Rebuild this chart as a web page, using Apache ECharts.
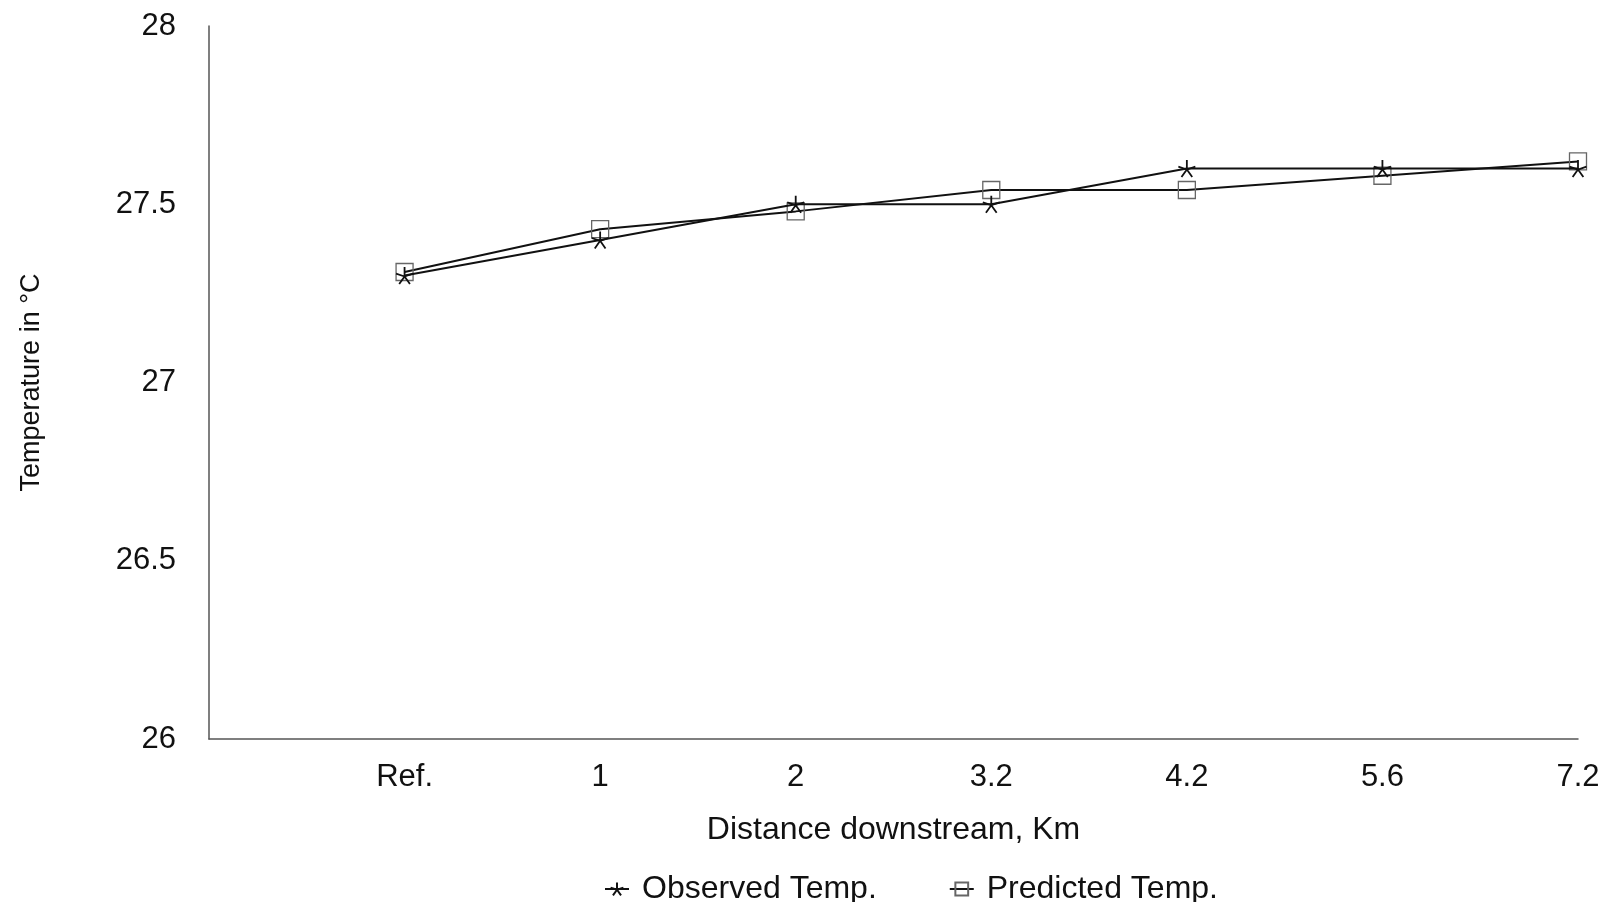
<!DOCTYPE html>
<html>
<head>
<meta charset="utf-8">
<script src="https://cdn.jsdelivr.net/npm/echarts@6/dist/echarts.min.js"></script>
<style>
html,body{margin:0;padding:0;background:#fff;}
#chart{width:1607px;height:902px;}
</style>
</head>
<body>
<div id="chart"></div>
<script>
// Data
var categories = ['Ref.', '1', '2', '3.2', '4.2', '5.6', '7.2'];
var observedTemp = [27.30, 27.40, 27.50, 27.50, 27.60, 27.60, 27.60];
var predictedTemp = [27.31, 27.43, 27.48, 27.54, 27.54, 27.58, 27.62];
var yTicks = { min: 26, max: 28, interval: 0.5 };

var FONT = '"Liberation Sans", Arial, Helvetica, sans-serif';
var starPath = 'path://M0,-10 L0,0 M0,0 L-9.5,-3 M0,0 L9.5,-3 M0,0 L-6,8 M0,0 L6,8';

var chart = echarts.init(document.getElementById('chart'), null, { renderer: 'canvas' });
chart.setOption({
  animation: false,
  backgroundColor: '#ffffff',
  textStyle: { fontFamily: FONT },
  grid: { left: 209, right: 29, top: 26, bottom: 163, containLabel: false },
  legend: {
    top: 868,
    left: 599,
    itemGap: 72,
    itemWidth: 24,
    itemHeight: 16,
    textStyle: { fontFamily: FONT, fontSize: 32, color: '#111', padding: [0, 0, 0, 8] },
    data: ['Observed Temp.', 'Predicted Temp.']
  },
  xAxis: {
    type: 'category',
    boundaryGap: false,
    data: [''].concat(categories),
    name: 'Distance downstream, Km',
    nameLocation: 'middle',
    nameGap: 75,
    nameTextStyle: { fontFamily: FONT, fontSize: 32, color: '#111' },
    axisLine: { show: true, lineStyle: { color: '#555', width: 1.5 } },
    axisTick: { show: false },
    axisLabel: { fontFamily: FONT, fontSize: 31, color: '#111', margin: 23, interval: 0 },
    splitLine: { show: false }
  },
  yAxis: {
    type: 'value',
    min: yTicks.min,
    max: yTicks.max,
    interval: yTicks.interval,
    name: 'Temperature in \u00B0C',
    nameLocation: 'middle',
    nameGap: 164,
    nameRotate: 90,
    nameTextStyle: { fontFamily: FONT, fontSize: 27, color: '#111' },
    axisLine: { show: true, lineStyle: { color: '#555', width: 1.5 } },
    axisTick: { show: false },
    axisLabel: { fontFamily: FONT, fontSize: 31, color: '#111', margin: 33 },
    splitLine: { show: false }
  },
  series: [
    {
      name: 'Observed Temp.',
      type: 'line',
      data: [null].concat(observedTemp),
      symbol: starPath,
      symbolSize: 17,
      showAllSymbol: true,
      lineStyle: { color: '#111', width: 2 },
      itemStyle: { color: '#111', borderColor: '#111', borderWidth: 1.8 },
      z: 3
    },
    {
      name: 'Predicted Temp.',
      type: 'line',
      data: [null].concat(predictedTemp),
      symbol: 'rect',
      symbolSize: 17,
      showAllSymbol: true,
      lineStyle: { color: '#111', width: 2 },
      itemStyle: { color: 'rgba(255,255,255,0)', borderColor: '#666', borderWidth: 1.3 },
      z: 2
    }
  ]
});
</script>
</body>
</html>
